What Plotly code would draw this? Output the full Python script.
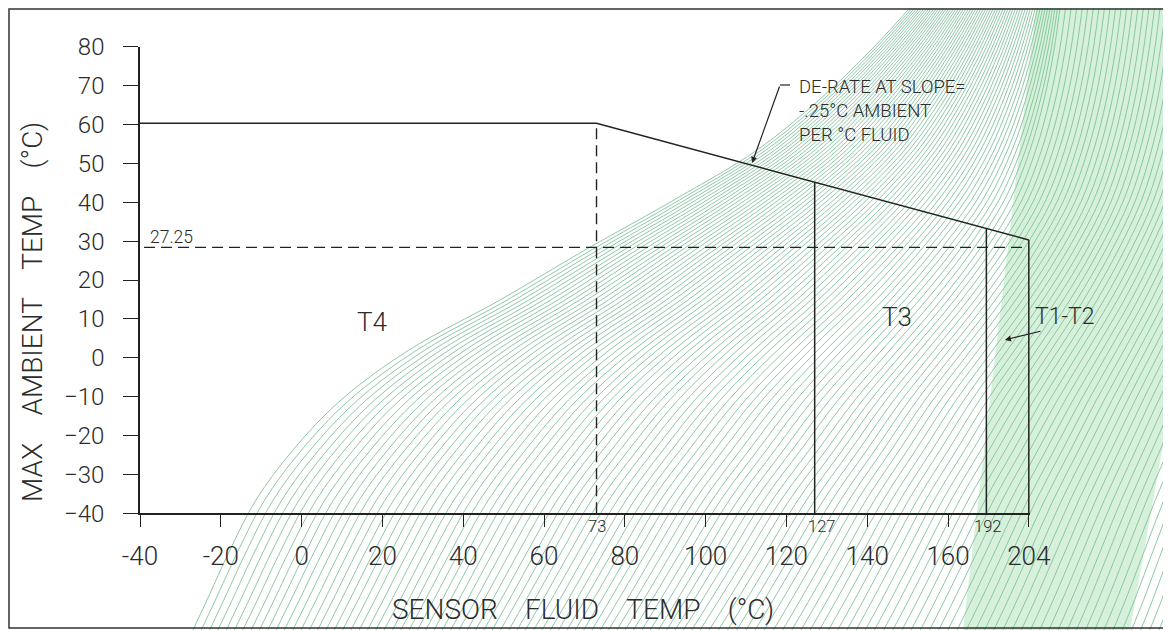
import numpy as np
import plotly.graph_objects as go

# ---------------- chart data ----------------
y_tick_values = list(range(-40, 81, 10))
x_tick_labels = [-40, -20, 0, 20, 40, 60, 80, 100, 120, 140, 160, 204]

# the drawing's fluid-temperature scale is compressed beyond 160 °C
scale_true = [-40, 160, 192, 204]
scale_drawn = [-40, 160, 169.5, 180]

derate_fluid = [-40, 73, 204]          # max-ambient limit line (fluid °C)
derate_ambient = [60.3, 60.3, 30.3]    # max ambient (°C)
zone_bounds = [73, 127, 192, 204]      # T-class boundaries (fluid °C)
ref_ambient = 28.4                     # dashed reference line (labelled 27.25)
ref_label = "27.25"

# background texture (green security print of the scan), screen pixels
pat_y = [0, 50, 100, 150, 200, 250, 300, 350, 400, 450, 500, 550, 600, 630]
pat_left = [917, 871, 819, 757, 674, 585, 500, 409, 341, 293, 256, 230, 207, 193]
pat_mid = [1061, 1054, 1044, 1030, 1010, 979, 941, 898, 855, 818, 781, 750, 719, 700]
pat_right = [1400, 1395, 1390, 1383, 1375, 1365, 1355, 1343, 1330, 1315, 1300, 1285, 1270, 1260]
band_x = [963, 1037, 1171, 1171, 1130]
band_y = [630, 0, 0, 400, 630]

SCR_W, SCR_H = 1171, 630
OFF = 8                      # page body margin
W, H = SCR_W - OFF, SCR_H - OFF
INK = "#222222"
TXT = "#2b2b2b"
FONT = "Roboto"


def pos(v):
    return np.interp(v, scale_true, scale_drawn)


fig = go.Figure()

# ---- texture (bottom subplot, screen-pixel coordinates) ----
L = np.array(pat_left, float)
M = np.array(pat_mid, float)
R = np.array(pat_right, float)
xs, ys = [], []
for s in np.linspace(0, 1, 62)[:-1]:
    xs += list(L + s * (M - L)) + [None]
    ys += pat_y + [None]
for s in np.linspace(0, 1, 62):
    xs += list(M + s * (R - M)) + [None]
    ys += pat_y + [None]
fig.add_trace(go.Scatter(x=xs, y=ys, mode="lines", xaxis="x", yaxis="y",
                         line=dict(color="rgb(115,185,145)", width=0.8, shape="spline"),
                         hoverinfo="skip", showlegend=False))
fig.add_trace(go.Scatter(x=band_x, y=band_y, fill="toself", mode="lines", xaxis="x", yaxis="y",
                         line=dict(width=0), fillcolor="rgba(120,205,135,0.30)",
                         hoverinfo="skip", showlegend=False))

# ---- chart (top subplot) ----
line_style = dict(color=INK, width=1.5)
dash_style = dict(color=INK, width=1.4, dash="11px,6px")

fig.add_trace(go.Scatter(x=pos(derate_fluid), y=derate_ambient, mode="lines",
                         xaxis="x2", yaxis="y2", line=line_style, showlegend=False))
fig.add_trace(go.Scatter(x=[pos(zone_bounds[0])] * 2, y=[-40, derate_ambient[1]], mode="lines",
                         xaxis="x2", yaxis="y2", line=dash_style, showlegend=False))
fig.add_trace(go.Scatter(x=[pos(-39), pos(zone_bounds[-1])], y=[ref_ambient] * 2, mode="lines",
                         xaxis="x2", yaxis="y2", line=dash_style, showlegend=False))
drawn_limit_x = pos(derate_fluid)
for b in zone_bounds[1:]:
    top = float(np.interp(pos(b), drawn_limit_x, derate_ambient))
    fig.add_trace(go.Scatter(x=[pos(b)] * 2, y=[-40, top], mode="lines",
                             xaxis="x2", yaxis="y2", line=line_style, showlegend=False))

# geometry of the chart box in screen pixels
px_left, px_per_x = 140.0, 4.04
py_bottom, py_top = 513.3, 46.7
x_rng = [-40, 180.4]
px_right = px_left + (x_rng[1] - x_rng[0]) * px_per_x
x_dom = [(px_left - OFF) / W, (px_right - OFF) / W]
y_dom = [(SCR_H - py_bottom) / H, (SCR_H - py_top) / H]

fig.update_layout(
    width=W, height=H, autosize=False,
    margin=dict(l=0, r=0, t=0, b=0, pad=0, autoexpand=False),
    paper_bgcolor="white", plot_bgcolor="rgba(0,0,0,0)",
    showlegend=False,
    xaxis=dict(domain=[0, 1], range=[OFF, SCR_W], visible=False, fixedrange=True, automargin=False),
    yaxis=dict(domain=[0, 1], range=[SCR_H, OFF], visible=False, fixedrange=True, automargin=False),
    xaxis2=dict(domain=x_dom, range=x_rng, anchor="y2", automargin=False,
                tickmode="array", tickvals=list(pos(x_tick_labels)),
                ticktext=[str(v) for v in x_tick_labels],
                ticks="outside", ticklen=12, tickwidth=1.4, tickcolor=INK,
                showline=True, linecolor=INK, linewidth=1.5,
                showgrid=False, zeroline=False, ticklabelstandoff=7,
                tickfont=dict(family=FONT, size=26, color=TXT, weight=300)),
    yaxis2=dict(domain=y_dom, range=[-40, 80], anchor="x2", automargin=False,
                tickmode="array", tickvals=y_tick_values,
                ticks="outside", ticklen=15, tickwidth=1.4, tickcolor=INK,
                showline=True, linecolor=INK, linewidth=1.5,
                showgrid=False, zeroline=False, ticklabelstandoff=14,
                tickfont=dict(family=FONT, size=24, color=TXT, weight=300)),
)

nb = "\u00a0" * 4
ann = []
# axis titles (screen-pixel space)
ann.append(dict(x=583, y=609, xref="x", yref="y", text=f"SENSOR{nb}FLUID{nb}TEMP{nb}(°C)",
                showarrow=False, font=dict(family=FONT, size=28, color=TXT, weight=300)))
ann.append(dict(x=32, y=312, xref="x", yref="y", text=f"MAX{nb}AMBIENT{nb}TEMP{nb}(°C)",
                textangle=-90, showarrow=False,
                font=dict(family=FONT, size=28, color=TXT, weight=300)))
small = dict(family=FONT, size=16.5, color=TXT, weight=300)
# boundary value labels
for b, dx in zip(zone_bounds[:3], [0, 7, 1]):
    ann.append(dict(x=pos(b), y=-40, xref="x2", yref="y2", text=str(b), showarrow=False,
                    xanchor="center", yanchor="top", xshift=dx, yshift=-2, font=small))
ann.append(dict(x=-38, y=ref_ambient, xref="x2", yref="y2", text=ref_label, showarrow=False,
                xanchor="left", yanchor="bottom", yshift=-2,
                font=dict(family=FONT, size=17.5, color=TXT, weight=300)))
# zone labels
zone_font = dict(family=FONT, size=26, color=TXT, weight=300)
ann.append(dict(x=17.4, y=9.2, xref="x2", yref="y2", text="T4", showarrow=False, font=zone_font))
ann.append(dict(x=147.4, y=10.5, xref="x2", yref="y2", text="T3", showarrow=False, font=zone_font))
ann.append(dict(x=pos(zone_bounds[-1]), y=10.5, xref="x2", yref="y2", text="T1-T2",
                showarrow=False, xanchor="left", xshift=4,
                font=dict(family=FONT, size=23, color=TXT, weight=300)))
# T1-T2 leader arrow
ann.append(dict(x=174.1, y=4.6, xref="x2", yref="y2", text="", showarrow=True,
                ax=37, ay=-9, arrowhead=2, arrowsize=1, arrowwidth=1.2, arrowcolor=INK))
# de-rate note
ann.append(dict(x=122.6, y=72.9, xref="x2", yref="y2",
                text="DE-RATE AT SLOPE=<br>-.25°C AMBIENT<br>PER °C FLUID",
                showarrow=False, xanchor="left", yanchor="top", align="left",
                font=dict(family=FONT, size=18.5, color=TXT, weight=300)))
ann.append(dict(x=111.5, y=50.1, xref="x2", yref="y2", text="", showarrow=True,
                ax=28, ay=-78, arrowhead=2, arrowsize=1, arrowwidth=1.2, arrowcolor=INK))
fig.update_layout(annotations=ann)

# leader tick and drawing frame (screen pixels)
fig.add_shape(type="line", xref="x", yref="y", x0=780, y0=85, x1=790, y1=85,
              line=dict(color=INK, width=1.2))
fig.add_shape(type="rect", xref="x", yref="y", x0=9, y0=9, x1=1166, y1=628,
              line=dict(color="#333333", width=1.5))

fig.write_html("out.html")
